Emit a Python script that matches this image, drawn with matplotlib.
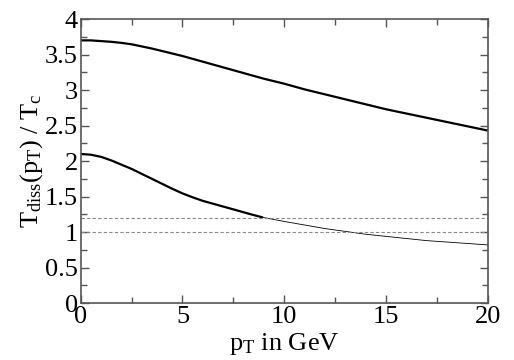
import matplotlib
matplotlib.use("Agg")
import matplotlib.pyplot as plt
from matplotlib.ticker import MultipleLocator

plt.rcParams["font.family"] = ["Liberation Serif", "DejaVu Serif"]
plt.rcParams["mathtext.fontset"] = "custom"
plt.rcParams["mathtext.rm"] = "Liberation Serif"
plt.rcParams["mathtext.it"] = "Liberation Serif:italic"

# values
pt = [0, 0.5, 1, 1.5, 2, 2.5, 3, 3.5, 4, 4.5, 5, 6, 7, 8, 9, 10, 11, 12, 13, 14, 15, 16, 17, 18, 19, 20]
upper = [3.70, 3.70, 3.69, 3.68, 3.665, 3.645, 3.615, 3.585, 3.55, 3.515, 3.48, 3.40, 3.32,
         3.24, 3.16, 3.09, 3.01, 2.94, 2.87, 2.80, 2.73, 2.67, 2.61, 2.55, 2.49, 2.43]

lower_pt_thick = [0, 0.5, 1, 1.5, 2, 2.5, 3, 3.5, 4, 4.5, 5, 5.5, 6, 6.5, 7, 7.5, 8, 8.5, 8.9]
lower_thick = [2.10, 2.09, 2.06, 2.01, 1.95, 1.89, 1.82, 1.75, 1.68, 1.61, 1.545, 1.49,
               1.44, 1.40, 1.36, 1.32, 1.28, 1.24, 1.21]
lower_pt_thin = [8.9, 10, 11, 12, 13, 14, 15, 16, 17, 18, 19, 20]
lower_thin = [1.21, 1.15, 1.10, 1.05, 1.01, 0.97, 0.94, 0.91, 0.88, 0.86, 0.84, 0.82]

thresholds = [1.0, 1.2]

fig = plt.figure(figsize=(5.14, 3.6), dpi=100)
ax = fig.add_axes([0.157, 0.158, 0.792, 0.789])

ax.plot(pt, upper, color="black", lw=1.6)
ax.plot(lower_pt_thick, lower_thick, color="black", lw=1.6)
ax.plot(lower_pt_thin, lower_thin, color="black", lw=0.6)
for t in thresholds:
    ax.axhline(t, color="#888888", lw=0.8, ls=(0, (3, 2)))

ax.set_xlim(0, 20)
ax.set_ylim(0, 4)
ax.xaxis.set_major_locator(MultipleLocator(5))
ax.xaxis.set_minor_locator(MultipleLocator(2.5))
ax.yaxis.set_major_locator(MultipleLocator(0.5))
ax.yaxis.set_minor_locator(MultipleLocator(0.25))
ax.set_yticklabels([f"{v:g}" for v in ax.get_yticks()])
ax.tick_params(which="both", direction="in", top=True, right=True,
               labelsize=19, color="#555555", width=1.0)
ax.tick_params(which="major", length=6, pad=2)
ax.tick_params(which="minor", length=4)
for s in ax.spines.values():
    s.set_color("#555555")
    s.set_linewidth(1.2)

ax.set_xlabel(r"$\mathrm{p_T}$ in GeV", fontsize=19, labelpad=2)
ax.set_ylabel(r"$\mathrm{T_{diss}(p_T)\ /\ T_c}$", fontsize=19, labelpad=0)

fig.savefig("out.png", dpi=100)
